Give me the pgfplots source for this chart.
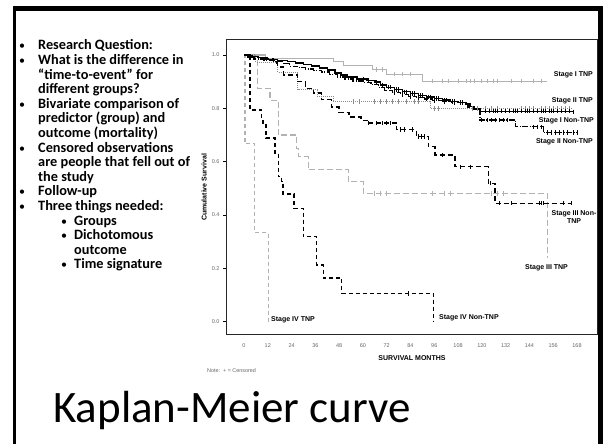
\documentclass[border=0pt]{standalone}
\usepackage{fontspec}
\setmainfont{Carlito}
\newfontfamily\arialf{Liberation Sans}
\usepackage{pgfplots}
\pgfplotsset{compat=1.18}
\definecolor{lgray}{gray}{0.70}
\definecolor{mgray}{gray}{0.55}
\definecolor{tgray}{gray}{0.40}
\newcommand\bul{{\mdseries\fontsize{12}{12}\selectfont •}}
\newcommand\bl[2]{\node[anchor=base west,inner sep=0pt] at (19pt,{394pt-14.6pt*#1}) {\bul};
  \node[anchor=base west,inner sep=0pt] at (38pt,{394pt-14.6pt*#1}) {#2};}
\newcommand\cl[2]{\node[anchor=base west,inner sep=0pt] at (38pt,{394pt-14.6pt*#1}) {#2};}
\newcommand\sbl[2]{\node[anchor=base west,inner sep=0pt] at (61pt,{394pt-14.6pt*#1}) {\bul};
  \node[anchor=base west,inner sep=0pt] at (74pt,{394pt-14.6pt*#1}) {#2};}
\newcommand\scl[2]{\node[anchor=base west,inner sep=0pt] at (74pt,{394pt-14.6pt*#1}) {#2};}
\begin{document}
\begin{tikzpicture}
\path[use as bounding box, fill=white] (0pt,0pt) rectangle (604pt,444pt);
% slide border
\fill[black] (13.3pt,0pt) rectangle (16.3pt,438pt);
\fill[black] (13.3pt,433pt) rectangle (603.3pt,438pt);
\fill[black] (598.3pt,0pt) rectangle (603.3pt,438pt);
% bullet text
\begin{scope}[font=\bfseries\fontsize{14.3}{14.3}\selectfont]
\bl{0}{Research Question:}
\bl{1}{What is the difference in}
\cl{2}{“time-to-event” for}
\cl{3}{different groups?}
\bl{4}{Bivariate comparison of}
\cl{5}{predictor (group) and}
\cl{6}{outcome (mortality)}
\bl{7}{Censored observations}
\cl{8}{are people that fell out of}
\cl{9}{the study}
\bl{10}{Follow-up}
\bl{11}{Three things needed:}
\sbl{12}{Groups}
\sbl{13}{Dichotomous}
\scl{14}{outcome}
\sbl{15}{Time signature}
\end{scope}
\begin{axis}[
  at={(226pt,109pt)}, anchor=south west,
  scale only axis, width=371pt, height=295pt,
  xmin=-9.08, xmax=178.1, ymin=-0.0499, ymax=1.0562,
  axis line style={line width=1pt, black!85},
  tick align=outside,
  xtick={0,12,...,168},
  xtick style={draw=none},
  ytick={0,0.2,0.4,0.6,0.8,1.0},
  ytick style={line width=0.5pt, black},
  major tick length=3pt,
  yticklabel={\pgfmathprintnumber[fixed,fixed zerofill,precision=1]{\tick}},
  /pgf/number format/assume math mode=true,
  tick label style={font=\arialf\fontsize{5.5}{6}\selectfont, text=tgray},
  xticklabel style={yshift=-2pt},
  clip=false,
  const plot,
]
% Stage I TNP
\addplot[lgray, line width=1.1pt] coordinates {(0,1)(11,0.988)(45,0.975)(50,0.962)(65,0.945)(72,0.928)(90,0.902)(153,0.902)};
\addplot[lgray, only marks, mark=|, mark size=2.2pt, mark options={line width=0.8pt}] coordinates {(67,0.945)(70,0.945)(76,0.928)(80,0.928)(84,0.928)(95,0.902)(100,0.902)(103,0.902)(108,0.902)(112,0.902)(114,0.902)(116,0.902)(120,0.902)(123,0.902)(126,0.902)(128,0.902)(135,0.902)(140,0.902)(146,0.902)(150,0.902)};
% Stage III TNP
\addplot[lgray, line width=1.1pt, dash pattern=on 6pt off 3pt] coordinates {(0,1)(6.8,0.875)(13.1,0.831)(17.3,0.70)(26.6,0.65)(27.5,0.619)(32.5,0.569)(52.6,0.525)(60.2,0.481)(152.9,0.239)};
\addplot[lgray, only marks, mark=|, mark size=2.2pt, mark options={line width=0.8pt}] coordinates {(66,0.481)(69,0.481)(72,0.481)(95,0.481)(101,0.481)(104,0.481)(125,0.481)(128,0.481)(131,0.481)};
% Stage IV TNP
\addplot[lgray, line width=1.1pt, dash pattern=on 4pt off 3pt] coordinates {(0,1)(0.5,0.667)(5.5,0.333)(12.3,0)};
% Stage II TNP
\addplot[mgray, line width=1.1pt, dash pattern=on 1pt off 1pt] coordinates {(0,1)(6,0.972)(17,0.935)(27,0.87)(37,0.845)(45,0.825)(94,0.80)(165,0.80)};
\addplot[mgray, only marks, mark=|, mark size=2.2pt, mark options={line width=0.8pt}] coordinates {(55,0.825)(58,0.825)(66,0.825)(69,0.825)(72,0.825)(75,0.825)(78,0.825)(82,0.825)(86,0.825)(88,0.825)(96,0.80)(98,0.80)(115,0.80)(118,0.80)(122,0.80)(125,0.80)(128,0.80)(140,0.80)(142,0.80)(144,0.80)(146,0.80)(150,0.80)(152,0.80)(154,0.80)(156,0.80)(158,0.80)(160,0.80)(162,0.80)(164,0.80)};
% Stage IV Non-TNP
\addplot[black, line width=1.5pt, dash pattern=on 4pt off 3pt] coordinates {(0,1)(3,0.794)(8.9,0.756)(9.5,0.738)(11,0.688)(15.6,0.631)(17.3,0.544)(19,0.525)(19.8,0.478)(25.2,0.425)(30,0.319)(36.7,0.213)(40,0.163)(49.3,0.106)(95.5,0)};
\addplot[black, only marks, mark=|, mark size=2.2pt, mark options={line width=0.8pt}] coordinates {(83,0.106)};
% Stage III Non-TNP
\addplot[black, line width=1.3pt, dash pattern=on 5pt off 3pt] coordinates {(0,1)(4,0.99)(10,0.985)(15,0.97)(17,0.955)(20,0.925)(27,0.90)(31,0.875)(35,0.858)(39,0.832)(44,0.805)(48,0.785)(53,0.768)(59,0.755)(62,0.745)(77,0.72)(87,0.695)(93,0.656)(96.4,0.625)(106.5,0.581)(123.3,0.519)(126.6,0.444)(165.3,0.444)};
\addplot[black, only marks, mark=|, mark size=2.2pt, mark options={line width=0.8pt}] coordinates {(63,0.745)(67,0.745)(70,0.745)(72,0.745)(74,0.745)(79,0.72)(81,0.72)(85,0.72)(88,0.695)(89.5,0.695)(91,0.695)(100,0.625)(109,0.581)(114,0.581)(124.5,0.519)(129,0.444)(135,0.444)(149,0.444)(150,0.444)(151,0.444)(161,0.444)(165,0.444)};
% Stage II Non-TNP
\addplot[black, line width=1.3pt, dash pattern=on 6pt off 1.5pt on 1pt off 1.5pt] coordinates {(0,1)(2,0.993)(5,0.985)(10,0.98)(16,0.975)(20,0.968)(23,0.958)(27,0.952)(31,0.948)(35,0.942)(39,0.936)(43,0.928)(47,0.918)(51,0.91)(55,0.903)(60,0.897)(64,0.889)(68,0.878)(71,0.868)(75,0.86)(79,0.852)(83,0.845)(87,0.84)(91,0.835)(95,0.83)(100,0.826)(105,0.822)(110,0.815)(113,0.805)(116,0.795)(119,0.756)(137,0.731)(151,0.709)(168,0.709)};
\addplot[black, only marks, mark=|, mark size=2.2pt, mark options={line width=0.8pt}] coordinates {(76,0.86)(80,0.852)(84,0.845)(88,0.84)(92,0.835)(96,0.83)(101,0.826)(106,0.822)(120,0.756)(123,0.756)(125,0.756)(127,0.756)(129,0.756)(131,0.756)(133,0.756)(146,0.731)(148,0.731)(150,0.731)(153,0.709)(155,0.709)(157,0.709)(159,0.709)(161,0.709)(163,0.709)(166,0.709)(168,0.709)};
% Stage I Non-TNP
\addplot[black, line width=1.4pt] coordinates {(0,1)(3,0.995)(7,0.99)(12,0.984)(17,0.98)(22,0.976)(26,0.97)(30,0.964)(34,0.958)(38,0.951)(42,0.943)(46,0.933)(49,0.925)(52,0.918)(57,0.91)(62,0.904)(66,0.898)(69,0.888)(72,0.879)(76,0.87)(80,0.862)(84,0.855)(88,0.848)(92,0.843)(96,0.837)(100,0.831)(104,0.826)(108,0.822)(112,0.816)(114,0.806)(116,0.797)(119,0.789)(166,0.787)};
\addplot[black, only marks, mark=|, mark size=2.2pt, mark options={line width=0.8pt}] coordinates {(60,0.91)(63,0.904)(67,0.898)(70,0.888)(73,0.879)(74,0.879)(77,0.87)(78,0.87)(81,0.862)(82,0.862)(85,0.855)(86,0.855)(89,0.848)(90,0.848)(93,0.843)(94,0.843)(97,0.837)(98,0.837)(101,0.831)(102,0.831)(105,0.826)(106,0.826)(109,0.822)(110,0.822)(122,0.789)(124,0.789)(126,0.789)(127,0.789)(128,0.789)(130,0.789)(132,0.789)(134,0.789)(136,0.789)(137,0.789)(138,0.789)(140,0.789)(142,0.789)(143,0.789)(144,0.789)(146,0.789)(148,0.789)(150,0.789)(151,0.789)(152,0.789)(154,0.789)(155,0.789)(156,0.789)(158,0.789)(160,0.789)(162,0.789)(164,0.789)(166,0.787)};
\end{axis}
% axis titles and curve labels
\begin{scope}[font=\arialf\bfseries\fontsize{7}{8}\selectfont]
\node[rotate=90] at (204pt,256.5pt) {Cumulative Survival};
\node at (412pt,86pt) {SURVIVAL MONTHS};
\node[anchor=east,inner sep=0pt] at (593pt,369pt) {Stage I TNP};
\node[anchor=east,inner sep=0pt] at (593pt,343pt) {Stage II TNP};
\node[anchor=east,inner sep=0pt] at (594pt,323pt) {Stage I Non-TNP};
\node[anchor=east,inner sep=0pt] at (593pt,302pt) {Stage II Non-TNP};
\node[align=center,inner sep=0pt] at (574pt,227pt) {Stage III Non-\\TNP};
\node[inner sep=0pt] at (546.5pt,176pt) {Stage III TNP};
\node[anchor=west,inner sep=0pt] at (439pt,126pt) {Stage IV Non-TNP};
\node[anchor=west,inner sep=0pt] at (271pt,124pt) {Stage IV TNP};
\end{scope}
\node[anchor=west,inner sep=0pt,text=tgray,font=\arialf\fontsize{5.4}{6}\selectfont] at (207pt,73pt) {Note:\ \ + = Censored};
\node[anchor=base west,inner sep=0pt,font=\fontsize{45}{48}\selectfont] at (53pt,22pt) {Kaplan-Meier curve};
\end{tikzpicture}
\end{document}
